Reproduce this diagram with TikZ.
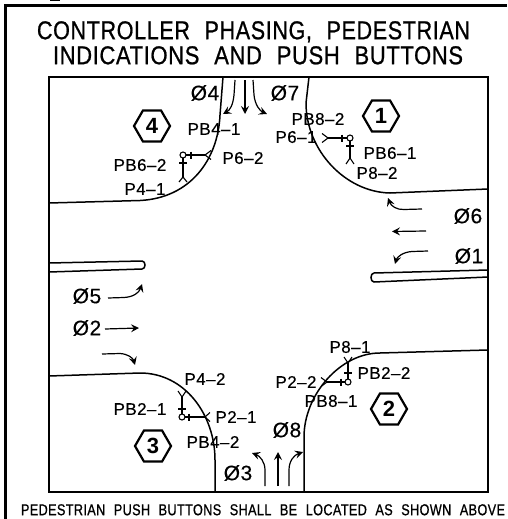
\documentclass[tikz,border=0pt]{standalone}
\usepackage{fontspec}
\usepackage{graphicx}
\usetikzlibrary{arrows.meta,shapes.geometric}
\setmainfont{Liberation Sans}
\newfontfamily\cad[LetterSpace=3,WordSpace=2.2,FakeBold=0.9]{Liberation Sans}
\newfontfamily\cadlab[LetterSpace=2.5,WordSpace=2.2,FakeBold=0.3]{Liberation Sans}
\tikzset{
  framelines/.style={line width=2.4pt},
  road/.style={line width=1.5pt},
  pedline/.style={line width=1.1pt},
  mv/.style={line width=1.2pt,-{Stealth[length=8pt,width=8pt,inset=3pt]}},
  lab/.style={font=\cadlab\fontsize{17}{17}\selectfont,inner sep=0pt},
  phase/.style={font=\cadlab\fontsize{21}{21}\selectfont,inner sep=0pt},
  hexa/.style={draw,line width=2.2pt,regular polygon,regular polygon sides=6,minimum size=36pt,inner sep=0pt,font=\bfseries\fontsize{22}{22}\selectfont},
  ttl/.style={inner sep=0pt}
}
\newcommand{\pedsym}[9]{%
  \coordinate (#9h) at (#1,#2);
  \coordinate (#9a) at (#3,#2);
  \coordinate (#9l) at (#1,#6);
  \draw[pedline] (#9h) circle (3pt);
  \draw[pedline] (#9h) ++(#5*0.5,0) -- (#9a);
  \draw[pedline] (#4,#2-3.5) -- (#4,#2+3.5);
  \draw[pedline] (#3+#5,#2-4.5) -- (#9a) -- (#3+#5,#2+4.5);
  \draw[pedline] (#1,#2+#8*0.5) -- (#9l);
  \draw[pedline] (#1-4,#7) -- (#1+4,#7);
  \draw[pedline] (#1-4,#6+#8) -- (#9l) -- (#1+4,#6+#8);
}
\begin{document}
\begin{tikzpicture}[x=1pt,y=-1pt]
\useasboundingbox (0,0) rectangle (507,519);
% sheet frame
\draw[framelines] (5.5,519) -- (5.5,5.5) -- (507,5.5);
\fill (50,0) rectangle (60,1.2);
% titles
\node[ttl,anchor=north] (t1) at (253.5,21) {\resizebox{433pt}{18pt}{\cad CONTROLLER PHASING, PEDESTRIAN}};
\node[ttl,anchor=north] (t2) at (258,46) {\resizebox{410pt}{18pt}{\cad INDICATIONS AND PUSH BUTTONS}};
\node[ttl,anchor=north] (t3) at (263,504) {\resizebox{484pt}{11pt}{\cad PEDESTRIAN PUSH BUTTONS SHALL BE LOCATED AS SHOWN ABOVE}};
% map frame
\draw[road] (49,77) rectangle (488,492);
% corners
\draw[road] (223,77) -- (220,115) .. controls (218,160) and (190,198) .. (140,200.5) -- (49,203);
\draw[road] (309,77) -- (306,103) .. controls (306,150) and (345,192) .. (390,193) -- (488,189);
\draw[road] (49,376) -- (140,373) .. controls (185,373) and (215,415) .. (215,460) -- (215,492);
\draw[road] (488,350) -- (380,353) .. controls (340,353) and (304,395) .. (304,437) -- (304,492);
% medians
\draw[road] (49,263) -- (142,261) .. controls (146,261) and (146,269) .. (142,269) -- (49,272);
\draw[road] (488,270) -- (374,273) .. controls (370,273) and (370,282) .. (374,282) -- (488,277);
% movement arrows: north
\draw[mv] (235,80) -- (234,95) .. controls (233,105) and (230,110) .. (223,114);
\draw[mv] (245,80) -- (245,114);
\draw[mv] (253,80) -- (254,95) .. controls (255,105) and (260,111) .. (267,114);
% south
\draw[mv] (265,486) -- (265,470) .. controls (265,462) and (260,456) .. (252,453);
\draw[mv] (278,486) -- (278,452);
\draw[mv] (289,486) -- (289,470) .. controls (289,461) and (294,455) .. (303,452);
% west
\draw[mv] (108,298) -- (124,297.5) .. controls (133,297) and (139,293) .. (142,284);
\draw[mv] (105,329) -- (139,328);
\draw[mv] (102,354) -- (120,353.5) .. controls (128,354) and (133,358) .. (135,365);
% east
\draw[mv] (422,209) -- (404,209.5) .. controls (397,210) and (391,206) .. (388,198);
\draw[mv] (426,231) -- (392,231.5);
\draw[mv] (428,251) -- (412,251.5) .. controls (403,252) and (397,257) .. (395,264);
% pedestrian symbols
\pedsym{183}{155}{205}{191}{6}{177}{163}{5}{pa}
\pedsym{350}{138}{328}{342}{-6}{158}{146}{6}{pb}
\pedsym{182}{417}{205}{189}{5}{397}{409}{-6}{pc}
\pedsym{348}{382}{327}{341}{-6}{363}{373}{-6}{pd}
% hexagons
\node[hexa] (h4) at (152,126) {4};
\node[hexa] (h1) at (381,116) {1};
\node[hexa] (h3) at (153,446) {3};
\node[hexa] (h2) at (389,409) {2};
% phases
\node[phase] (f4) at (205,93) {Ø4};
\node[phase] (f7) at (285,93) {Ø7};
\node[phase] (f6) at (468,216) {Ø6};
\node[phase] (f1) at (469,256) {Ø1};
\node[phase] (f5) at (87,296) {Ø5};
\node[phase] (f2) at (87,328) {Ø2};
\node[phase] (f3) at (238,473) {Ø3};
\node[phase] (f8) at (287,430) {Ø8};
% labels
\node[lab] (l1) at (214,129) {PB4–1};
\node[lab] (l2) at (243,158) {P6–2};
\node[lab] (l3) at (140,165) {PB6–2};
\node[lab] (l4) at (145,189) {P4–1};
\node[lab] (l5) at (318,119) {PB8–2};
\node[lab] (l6) at (296,137) {P6–1};
\node[lab] (l7) at (390,153) {PB6–1};
\node[lab] (l8) at (377,173) {P8–2};
\node[lab] (l9) at (205,379) {P4–2};
\node[lab] (l10) at (140,409) {PB2–1};
\node[lab] (l11) at (236,417) {P2–1};
\node[lab] (l12) at (213,442) {PB4–2};
\node[lab] (l13) at (350,347) {P8–1};
\node[lab] (l14) at (384,373) {PB2–2};
\node[lab] (l15) at (296,382) {P2–2};
\node[lab] (l16) at (331,401) {PB8–1};
\end{tikzpicture}
\end{document}
